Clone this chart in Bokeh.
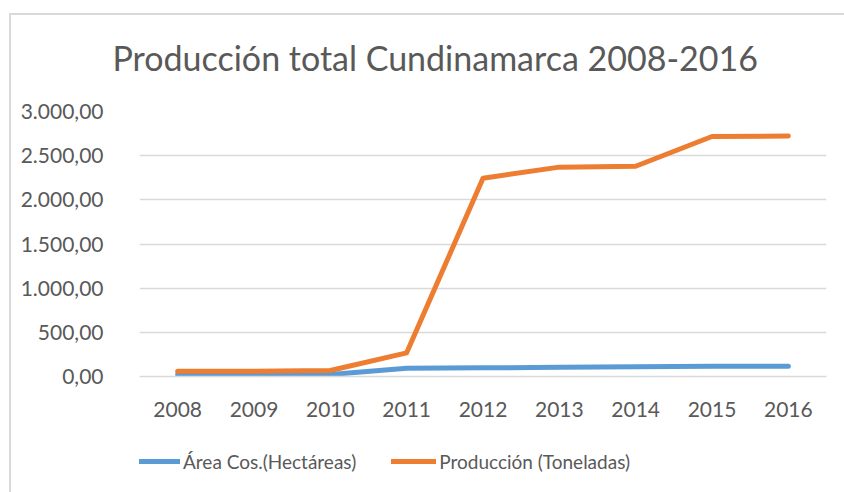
from bokeh.plotting import figure
from bokeh.layouts import column
from bokeh.models import FactorRange, Range1d, FixedTicker, Legend, LegendItem
from bokeh.embed import file_html
from bokeh.resources import INLINE

years = ["2008", "2009", "2010", "2011", "2012", "2013", "2014", "2015", "2016"]
area = [23, 23, 23, 94, 98, 104, 110, 116, 116]
produccion = [60, 60, 68, 268, 2245, 2370, 2380, 2717, 2723]
y_ticks = [0, 500, 1000, 1500, 2000, 2500, 3000]
y_tick_labels = ["0,00", "500,00", "1.000,00", "1.500,00", "2.000,00", "2.500,00", "3.000,00"]
series_names = ["Área Cos.(Hectáreas)", "Producción (Toneladas)"]
title_text = "Producción total Cundinamarca 2008-2016"

FONT = "Lato"
GRAY = "#595959"
GRID = "#d9d9d9"
BLUE = "#5B9BD5"
ORANGE = "#ED7D31"

p = figure(width=844, height=440, x_range=FactorRange(*years, range_padding=0),
           y_range=Range1d(0, 3000), output_backend="svg", toolbar_location=None,
           min_border_left=139, min_border_right=18, min_border_top=111, min_border_bottom=64)
p.border_fill_color = None
p.background_fill_color = None

p.title.text = title_text
p.title.text_font = FONT
p.title.text_font_size = "34px"
p.title.text_font_style = "normal"
p.title.text_color = GRAY
p.title.align = "left"
p.title.offset = -27
p.title.standoff = 68

p.outline_line_color = None
p.xgrid.grid_line_color = None
p.ygrid.grid_line_color = GRID
p.ygrid.grid_line_width = 1.3

p.yaxis.ticker = FixedTicker(ticks=y_ticks)
p.yaxis.major_label_overrides = {t: l for t, l in zip(y_ticks, y_tick_labels)}
p.yaxis.axis_line_color = None
p.yaxis.major_tick_line_color = None
p.yaxis.minor_tick_line_color = None
p.yaxis.major_label_standoff = 30
p.yaxis.major_label_text_font = FONT
p.yaxis.major_label_text_font_size = "21px"
p.yaxis.major_label_text_color = GRAY

p.xaxis.axis_line_color = GRID
p.xaxis.axis_line_width = 1.3
p.xaxis.major_tick_line_color = None
p.xaxis.major_label_standoff = 19
p.xaxis.major_label_text_font = FONT
p.xaxis.major_label_text_font_size = "21px"
p.xaxis.major_label_text_color = GRAY

p.line(years, area, line_color=BLUE, line_width=5, line_cap="round", line_join="round")
p.line(years, produccion, line_color=ORANGE, line_width=5, line_cap="round", line_join="round")

# legend strip (same series, drawn outside its visible y range so only the legend shows)
p2 = figure(width=844, height=52, x_range=p.x_range, y_range=Range1d(-2, -1),
            output_backend="svg", toolbar_location=None, min_border=0)
p2.border_fill_color = None
p2.background_fill_color = None
p2.outline_line_color = None
p2.axis.visible = False
p2.grid.visible = False
l1 = p2.line(years, area, line_color=BLUE, line_width=5, line_cap="round")
l2 = p2.line(years, produccion, line_color=ORANGE, line_width=5, line_cap="round")
legend = Legend(items=[LegendItem(label=series_names[0], renderers=[l1]),
                       LegendItem(label=series_names[1], renderers=[l2])],
                orientation="horizontal", location=(-4, 19),
                glyph_width=45, glyph_height=24, label_height=24, label_standoff=3, spacing=35,
                padding=0, margin=0, border_line_color=None, background_fill_alpha=0,
                label_text_font=FONT, label_text_font_size="19px", label_text_color=GRAY)
p2.add_layout(legend, "center")

layout = column(p, p2, spacing=0)
layout.styles = {
    "background-image": "linear-gradient(#d9d9d9,#d9d9d9), linear-gradient(#d9d9d9,#d9d9d9)",
    "background-size": "100% 2px, 2px 100%",
    "background-position": "9px 13px, 9px 13px",
    "background-repeat": "no-repeat",
}

open("out.html", "w").write(file_html(layout, INLINE))
